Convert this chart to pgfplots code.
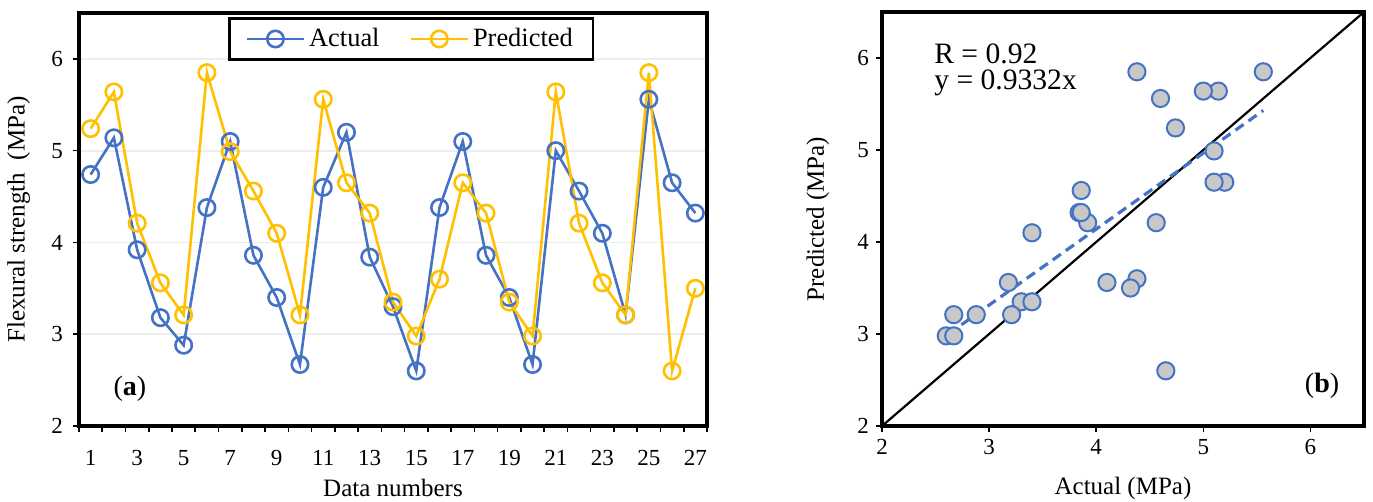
\documentclass[border=0pt]{standalone}
\usepackage{fontspec}
\setmainfont{Liberation Serif}
\usepackage{pgfplots}
\usepackage{pgfplotstable}
\pgfplotsset{compat=1.18}
\definecolor{cblue}{HTML}{4472C4}
\definecolor{cyel}{HTML}{FFC000}
\definecolor{cgray}{HTML}{C8C8C8}
\pgfplotstableread{
n act pred
1 4.74 5.24
2 5.14 5.64
3 3.92 4.21
4 3.18 3.56
5 2.88 3.21
6 4.38 5.85
7 5.10 4.99
8 3.86 4.56
9 3.40 4.10
10 2.67 3.21
11 4.60 5.56
12 5.20 4.65
13 3.84 4.32
14 3.30 3.35
15 2.60 2.98
16 4.38 3.60
17 5.10 4.65
18 3.86 4.32
19 3.40 3.35
20 2.67 2.98
21 5.00 5.64
22 4.56 4.21
23 4.10 3.56
24 3.21 3.21
25 5.56 5.85
26 4.65 2.60
27 4.32 3.50
}\data
\begin{document}
\begin{tikzpicture}
\pgfplotsset{
  every tick label/.append style={font=\fontsize{11.5}{13}\selectfont},
  /pgf/number format/assume math mode=true,
}
\begin{axis}[
  at={(0,0)}, anchor=south west, scale only axis,
  width=314pt, height=206.5pt,
  xmin=0.5, xmax=27.5, ymin=2, ymax=6.5,
  xtick={0.5,1.5,...,27.5}, xticklabels={},
  extra x ticks={1,3,...,27},
  extra x tick style={major tick length=0pt, grid=none, tick label style={yshift=-8.5pt}},
  ytick={2,3,4,5,6},
  yticklabel style={xshift=-1.5pt},
  tick align=outside, xtick pos=bottom, ytick pos=left,
  major tick length=3pt,
  tick style={black, line width=0.8pt},
  axis line style={line width=1.6pt},
  ymajorgrids, grid style={color=black!7, line width=0.9pt},
  xlabel={Data numbers}, ylabel={Flexural strength\ \ (MPa)},
  label style={font=\fontsize{12.5}{14}\selectfont},
  xlabel style={at={(axis description cs:0.5,-0.15)}, anchor=center},
  ylabel style={at={(axis description cs:-0.096,0.5)}, anchor=center},
  legend columns=2,
  legend style={at={(0.529,0.99)}, anchor=north, draw=black, line width=1.2pt,
    font=\fontsize{13.2}{15}\selectfont, inner xsep=8pt, inner ysep=3pt,
    /tikz/every even column/.append style={column sep=13pt}},
  legend image code/.code={\draw[mark repeat=2,mark phase=2] plot coordinates {(0cm,0cm)(0.5cm,0cm)(1.0cm,0cm)};},
]
\addplot[cblue, line width=1.3pt, mark=o, mark size=4.1pt, mark options={line width=1.3pt, solid}] table[x=n,y=act]{\data};
\addlegendentry{Actual}
\addplot[cyel, line width=1.3pt, mark=o, mark size=4.1pt, mark options={line width=1.3pt, solid}] table[x=n,y=pred]{\data};
\addlegendentry{Predicted}
\node[anchor=base, font=\fontsize{14}{16}\selectfont] at (rel axis cs:0.081,0.073) {(\textbf{a})};
\end{axis}
\begin{axis}[
  at={(401.5pt,0)}, anchor=south west, scale only axis,
  width=241pt, height=207pt,
  xmin=2, xmax=6.5, ymin=2, ymax=6.5,
  xtick={2,3,4,5,6}, ytick={2,3,4,5,6},
  tick align=outside, xtick pos=bottom, ytick pos=left,
  major tick length=3pt,
  tick style={black, line width=0.8pt},
  axis line style={line width=1.6pt},
  xlabel={Actual (MPa)}, ylabel={Predicted (MPa)},
  label style={font=\fontsize{12.5}{14}\selectfont},
  xlabel style={at={(axis description cs:0.5,-0.15)}, anchor=center},
  ylabel style={at={(axis description cs:-0.133,0.5)}, anchor=center},
]
\addplot[black, line width=1.1pt] coordinates {(2,2)(6.5,6.5)};
\addplot[cblue, line width=1.6pt, dash pattern=on 5pt off 3pt] coordinates {(2.62,3.0)(5.56,5.43)};
\addplot[only marks, mark=*, mark size=4.3pt, mark options={fill=cgray, draw=cblue, line width=1pt}] table[x=act,y=pred]{\data};
\node[anchor=base west, font=\fontsize{14.8}{16}\selectfont] at (rel axis cs:0.094,0.876) {R = 0.92};
\node[anchor=base west, font=\fontsize{14.8}{16}\selectfont] at (rel axis cs:0.094,0.812) {y = 0.9332x};
\node[anchor=base, font=\fontsize{14}{16}\selectfont] at (rel axis cs:0.913,0.082) {(\textbf{b})};
\end{axis}
\pgfresetboundingbox
\path[use as bounding box] (-39.5pt,-38pt) rectangle (647pt,213pt);
\end{tikzpicture}
\end{document}
